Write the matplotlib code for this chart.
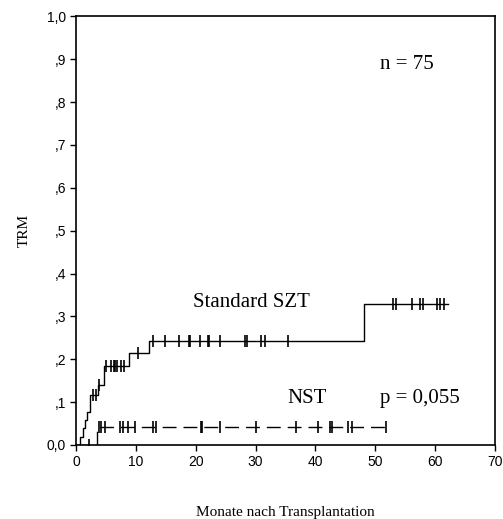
import matplotlib
matplotlib.use("Agg")
from matplotlib import pyplot as plt
import numpy as np

# Standard SZT: step times / cumulative TRM
std_t = [0, 0.6, 1.2, 1.5, 1.9, 2.3, 3.6, 4.7, 8.8, 12.2, 48.1, 62.2]
std_y = [0, 0.019, 0.04, 0.058, 0.078, 0.117, 0.14, 0.185, 0.214, 0.242, 0.33, 0.33]
std_cens = [2.9, 3.3, 3.8, 5.1, 5.8, 6.3, 6.6, 6.9, 7.5, 8.1, 10.4, 12.9, 14.8,
            17.2, 18.9, 19.1, 20.8, 22.1, 22.3, 24.0, 28.2, 28.6, 30.9, 31.5,
            35.5, 52.9, 53.4, 56.2, 57.5, 58.0, 60.3, 60.8, 61.5]

# NST
nst_t = [0, 3.5, 52.5]
nst_y = [0, 0.042, 0.042]
nst_cens = [2.2, 3.8, 4.2, 4.8, 7.3, 7.9, 8.7, 9.8, 12.9, 13.3, 20.9, 21.1,
            24.0, 30.0, 36.7, 40.4, 42.5, 42.7, 45.4, 46.2, 51.8]

yticks = [0.0, 0.1, 0.2, 0.3, 0.4, 0.5, 0.6, 0.7, 0.8, 0.9, 1.0]
ylabels = ['0,0', ',1', ',2', ',3', ',4', ',5', ',6', ',7', ',8', ',9', '1,0']
xticks = [0, 10, 20, 30, 40, 50, 60, 70]


def step_val(t, y, x):
    idx = np.searchsorted(t, x, side='right') - 1
    return np.array(y)[idx]


fig = plt.figure(figsize=(5.03, 5.19), dpi=100)
ax = fig.add_axes([0.151, 0.1426, 0.833, 0.826])

ax.step(std_t, std_y, where='post', color='black', lw=1.0)
ax.plot(std_cens, step_val(std_t, std_y, std_cens), ls='none',
        marker='|', ms=8, mew=1.2, color='black')

ax.step(nst_t, nst_y, where='post', color='black', lw=1.0, dashes=(10, 5))
ax.plot(nst_cens, step_val(nst_t, nst_y, nst_cens), ls='none',
        marker='|', ms=8, mew=1.2, color='black')

ax.set_xlim(0, 70)
ax.set_ylim(0, 1.0)
ax.set_xticks(xticks)
ax.set_yticks(yticks)
ax.set_yticklabels(ylabels)
ax.tick_params(direction='out', length=4, width=1, labelsize=10, pad=3,
               labelfontfamily='Liberation Sans')
for s in ax.spines.values():
    s.set_linewidth(1.2)

serif = 'Liberation Serif'
ax.text(55.3, 0.878, 'n = 75', fontsize=15, family=serif, ha='center', va='baseline')
ax.text(29.3, 0.322, 'Standard SZT', fontsize=15, family=serif, ha='center', va='baseline')
ax.text(38.6, 0.098, 'NST', fontsize=15, family=serif, ha='center', va='baseline')
ax.text(57.5, 0.098, 'p = 0,055', fontsize=15, family=serif, ha='center', va='baseline')

ax.set_ylabel('TRM', family=serif, fontsize=11, labelpad=12)
ax.set_xlabel('Monate nach Transplantation', family=serif, fontsize=11, labelpad=27)

plt.savefig('out.png', dpi=100)
